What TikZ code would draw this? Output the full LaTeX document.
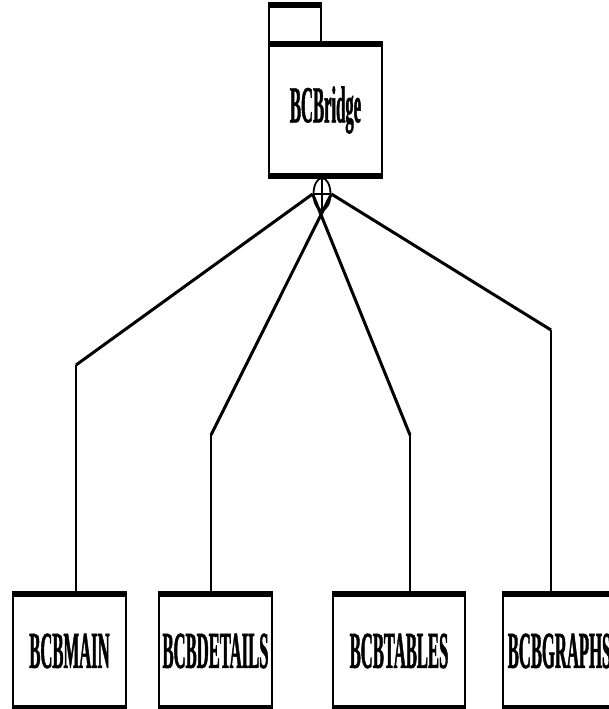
\documentclass[tikz,border=0pt]{standalone}
\usepackage{fontspec}
\newfontfamily\umlfont[FakeStretch=0.32,FakeBold=0.8]{Liberation Serif Bold}
\usetikzlibrary{shapes.geometric}
\colorlet{box edge}{black}
\colorlet{box area}{white}
\tikzset{package/.style={draw=box edge, fill=box area, line width=2pt,
        inner sep=0pt, minimum width=113pt, minimum height=112pt,
        font=\umlfont\fontsize{52}{52}\selectfont},
    bar/.style={draw=box edge, line width=5.5pt},
    link/.style={draw=box edge, line width=3pt}}

\begin{document}
\begin{tikzpicture}[x=1pt, y=-1pt]
    \useasboundingbox (0,0) rectangle (608,709);
    % package on top
    \node[package, minimum height=130pt] (bridge) at (325.5,110) {BCBridge};
    \node[package, minimum width=52pt, minimum height=37pt, anchor=south west]
      (tab) at (bridge.north west) {};
    % packages below
    \node[package] (main)    at (69.5,651)  {BCBMAIN};
    \node[package] (details) at (215.5,651) {BCBDETAILS};
    \node[package, minimum width=132pt] (tables) at (399,651) {BCBTABLES};
    \node[package] (graphs)  at (559.5,651) {BCBGRAPHS};
    \foreach \p in {tab, bridge, main, details, tables, graphs}
      \draw[bar] (\p.north west) -- (\p.north east);
    \foreach \p in {bridge, main, details, tables, graphs}
      \draw[bar] (\p.south west) -- (\p.south east);
    % containment
    \node[draw=box edge, ellipse, line width=1.8pt, inner sep=0pt,
      minimum width=17pt, minimum height=32pt] (joint) at (322,194) {};
    \draw[line width=1.8pt] (joint.north) -- (joint.south)
      (joint.west) -- (joint.east);
    \coordinate (main bend)    at (76,365);
    \coordinate (details bend) at (211,435);
    \coordinate (tables bend)  at (410,435);
    \coordinate (graphs bend)  at (551,330);
    \draw[link] (joint.west) -- (main bend);
    \draw[link] (joint.east) -- (details bend);
    \draw[link] (joint.west) -- (tables bend);
    \draw[link] (joint.east) -- (graphs bend);
    \foreach \p in {main, details, tables, graphs}
      \draw[link, line width=2.4pt] (\p\space bend) -- (\p\space bend |- \p.north);
\end{tikzpicture}
\end{document}
